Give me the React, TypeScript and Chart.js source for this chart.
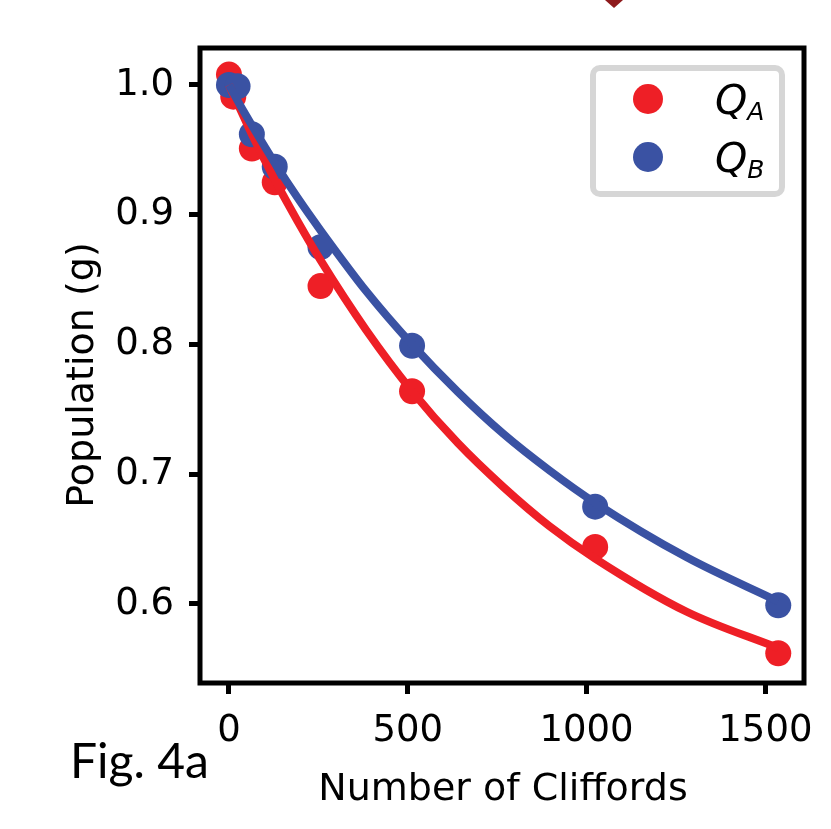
import React, { useEffect, useRef } from "react";
import { Chart, registerables } from "chart.js";

Chart.register(...registerables);

// Measured points
const cliffordsA = [0, 12, 64, 128, 256, 512, 1024, 1536];
const populationA = [1.008, 0.991, 0.951, 0.925, 0.845, 0.764, 0.644, 0.562];
const cliffordsB = [0, 24, 64, 128, 256, 512, 1024, 1536];
const populationB = [1.0, 0.999, 0.962, 0.937, 0.875, 0.799, 0.675, 0.599];

// Fit curves
const fitX = [0, 32, 64, 128, 192, 256, 384, 512, 640, 768, 896, 1024, 1280, 1536];
const fitA = [1.0, 0.981, 0.962, 0.927, 0.895, 0.865, 0.811, 0.764, 0.724, 0.69, 0.66, 0.635, 0.594, 0.566];
const fitB = [1.0, 0.984, 0.969, 0.94, 0.913, 0.888, 0.841, 0.8, 0.7635, 0.731, 0.703, 0.678, 0.636, 0.602];

const xTicks = [0, 500, 1000, 1500];
const yTicks = [0.6, 0.7, 0.8, 0.9, 1.0];

const xTitle = "Number of Cliffords";
const yTitle = "Population (g)";
const figLabel = "Fig. 4a";
const legendLabels = [
  { main: "Q", sub: "A" },
  { main: "Q", sub: "B" },
];

const RED = "#EE1F26";
const BLUE = "#3A52A3";
const FONT = "'DejaVu Sans', sans-serif";

const toXY = (xs: number[], ys: number[]) => xs.map((x, i) => ({ x, y: ys[i] }));

const decorPlugin = {
  id: "decor",
  afterDraw(chart: any) {
    const { ctx, chartArea } = chart;
    const { left, right, top, bottom } = chartArea;
    ctx.save();
    // frame
    ctx.strokeStyle = "#000";
    ctx.lineWidth = 5;
    ctx.strokeRect(left, top, right - left, bottom - top);

    // legend
    const lx = 593, ly = 68, lw = 189, lh = 126;
    ctx.beginPath();
    (ctx as any).roundRect(lx, ly, lw, lh, 7);
    ctx.fillStyle = "#ffffff";
    ctx.fill();
    ctx.lineWidth = 6;
    ctx.strokeStyle = "#d6d6d6";
    ctx.stroke();
    const colors = [RED, BLUE];
    const rowsY = [99, 157];
    legendLabels.forEach((lab, i) => {
      ctx.beginPath();
      ctx.arc(648, rowsY[i], 15, 0, Math.PI * 2);
      ctx.fillStyle = colors[i];
      ctx.fill();
      ctx.fillStyle = "#000";
      ctx.textAlign = "left";
      ctx.textBaseline = "alphabetic";
      ctx.font = `italic 41px ${FONT}`;
      ctx.fillText(lab.main, 715, rowsY[i] + 15);
      const w = ctx.measureText(lab.main).width;
      ctx.font = `italic 25px ${FONT}`;
      ctx.fillText(lab.sub, 715 + w, rowsY[i] + 21);
    });

    // axis titles
    ctx.fillStyle = "#000";
    ctx.font = `38px ${FONT}`;
    ctx.textAlign = "center";
    ctx.textBaseline = "alphabetic";
    ctx.fillText(xTitle, 503, 800);
    ctx.save();
    ctx.translate(93, 375);
    ctx.rotate(-Math.PI / 2);
    ctx.fillText(yTitle, 0, 0);
    ctx.restore();

    // figure label
    ctx.font = "48px Lato, 'Open Sans', sans-serif";
    ctx.textAlign = "left";
    ctx.fillText(figLabel, 70, 778);

    // small diamond tip at the top edge
    ctx.beginPath();
    ctx.moveTo(605, 0);
    ctx.lineTo(623, 0);
    ctx.lineTo(614, 8);
    ctx.closePath();
    ctx.fillStyle = "#8E1A1C";
    ctx.fill();
    ctx.restore();
  },
};

export default function App() {
  const ref = useRef<HTMLCanvasElement>(null);
  useEffect(() => {
    if (!ref.current) return;
    const chart = new Chart(ref.current, {
      type: "scatter",
      data: {
        datasets: [
          {
            label: "fitB",
            type: "line",
            data: toXY(fitX, fitB),
            borderColor: BLUE,
            borderWidth: 8,
            pointRadius: 0,
            cubicInterpolationMode: "monotone",
            fill: false,
            order: 1,
          } as any,
          {
            label: "fitA",
            type: "line",
            data: toXY(fitX, fitA),
            borderColor: RED,
            borderWidth: 8,
            pointRadius: 0,
            cubicInterpolationMode: "monotone",
            fill: false,
            order: 2,
          } as any,
          {
            label: "QB",
            data: toXY(cliffordsB, populationB),
            backgroundColor: BLUE,
            borderWidth: 0,
            pointRadius: 13,
            order: 3,
          },
          {
            label: "QA",
            data: toXY(cliffordsA, populationA),
            backgroundColor: RED,
            borderWidth: 0,
            pointRadius: 13,
            order: 4,
          },
        ],
      },
      options: {
        responsive: false,
        animation: false,
        layout: { padding: { left: 0, right: 27, top: 48, bottom: 0 } },
        plugins: {
          legend: { display: false },
          tooltip: { enabled: false },
        },
        elements: { point: { hoverRadius: 13 } },
        scales: {
          x: {
            type: "linear",
            min: -81,
            max: 1608,
            afterBuildTicks: (s: any) => {
              s.ticks = xTicks.map((v) => ({ value: v }));
            },
            afterFit: (s: any) => {
              s.height = 146;
            },
            grid: {
              display: true,
              drawOnChartArea: false,
              drawTicks: true,
              tickLength: 11,
              tickWidth: 5,
              tickColor: "#000",
            },
            border: { display: false },
            ticks: {
              color: "#000",
              padding: 15,
              maxRotation: 0,
              autoSkip: false,
              font: { family: "'DejaVu Sans'", size: 37 },
              callback: (v: any) => String(v),
            },
          },
          y: {
            type: "linear",
            min: 0.5391,
            max: 1.0285,
            afterBuildTicks: (s: any) => {
              s.ticks = yTicks.map((v) => ({ value: v }));
            },
            afterFit: (s: any) => {
              s.width = 200;
            },
            grid: {
              display: true,
              drawOnChartArea: false,
              drawTicks: true,
              tickLength: 11,
              tickWidth: 5,
              tickColor: "#000",
            },
            border: { display: false },
            ticks: {
              color: "#000",
              padding: 15,
              autoSkip: false,
              font: { family: "'DejaVu Sans'", size: 37 },
              callback: (v: any) => Number(v).toFixed(1),
            },
          },
        },
      },
      plugins: [decorPlugin],
    });
    return () => chart.destroy();
  }, []);
  return (
    <div style={{ position: "absolute", left: 0, top: 0, width: 831, height: 829, background: "#fff" }}>
      <canvas ref={ref} width={831} height={829} />
    </div>
  );
}
